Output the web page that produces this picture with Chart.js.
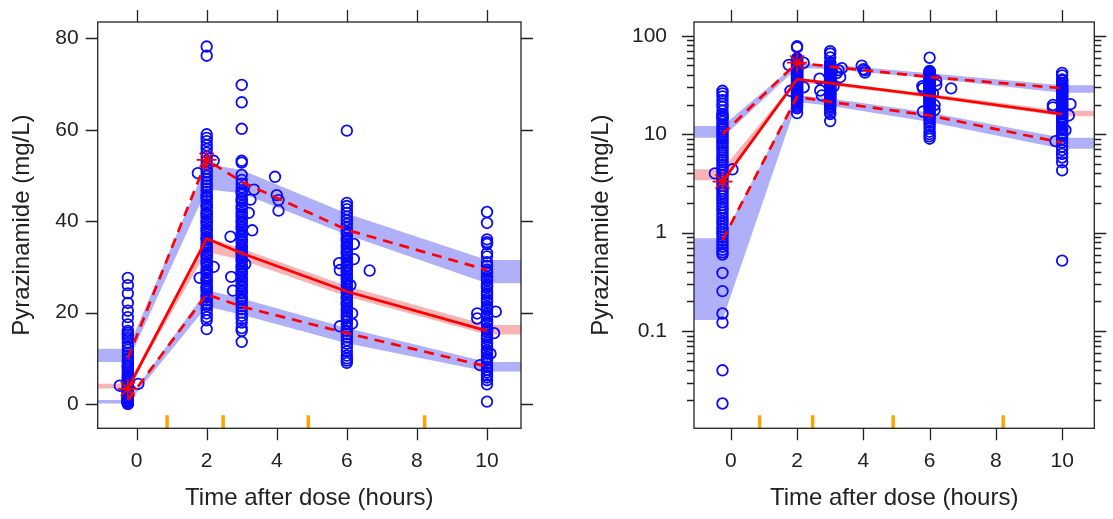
<!DOCTYPE html>
<html lang="en">
<head>
  <meta charset="UTF-8">
  <title>Pyrazinamide VPC</title>
  <style>
    body {
      margin: 0;
      padding: 0;
      background: #fff;
      font-family: "Liberation Sans", Arial, sans-serif;
    }
    .panel {
      position: absolute;
      top: 0;
      height: 519px;
    }
  </style>
</head>
<body>

<div class="panel" style="left:0;width:556px"><canvas id="linChart" width="556" height="519"></canvas></div>
<div class="panel" style="left:556px;width:557px"><canvas id="logChart" width="557" height="519"></canvas></div>

<script src="https://cdn.jsdelivr.net/npm/chart.js"></script>
<script>
  // bins (time after dose, hours)
  const binTimes = [-0.25, 2, 3, 6, 10];
  const binEdges = [0.87, 2.47, 4.9, 8.22];

  // observed percentiles
  const obsP05 = [0.84, 24.0, 21.3, 15.5, 8.2];
  const obsP50 = [3.3, 36.2, 33.0, 24.6, 16.0];
  const obsP95 = [10.0, 53.4, 48.6, 38.1, 29.3];

  // simulated confidence intervals of the percentiles
  const ciP05Low  = [0.13, 21.3, 19.5, 13.3, 7.1];
  const ciP05High = [0.88, 24.9, 23.1, 16.6, 9.2];
  const ciP50Low  = [3.4, 33.3, 31.5, 23.5, 15.2];
  const ciP50High = [4.4, 36.4, 34.0, 25.8, 17.3];
  const ciP95Low  = [9.2, 47.0, 46.1, 37.0, 26.4];
  const ciP95High = [12.1, 52.5, 51.2, 41.7, 31.5];

  // percentiles flagged outside their interval
  const starTimes = [-0.25, 2];
  const starConc = [3.3, 53.4];

  // observed concentrations, by nominal time column
  const colTimes = [-0.25, 2, 3, 6, 10];
  const obsPre = [27.6, 26.0, 24.2, 22.1, 20.4, 19.0, 17.4, 16.0, 15.6, 15.1, 14.6, 14.2, 13.4,
    12.6, 11.9, 11.2, 10.6, 10.0, 9.5, 9.0, 8.5, 8.1, 7.7, 7.3, 6.9, 6.5, 6.1, 5.8, 5.5, 5.2,
    4.9, 4.6, 4.35, 4.1, 3.85, 3.6, 3.4, 3.2, 3.0, 2.8, 2.65, 2.5, 2.35, 2.2, 2.05, 1.92, 1.8,
    1.7, 1.6, 1.5, 1.4, 1.31, 1.23, 1.15, 1.08, 1.01, 0.95, 0.89, 0.83, 0.77, 0.72, 0.67, 0.63,
    0.6, 0.39, 0.255, 0.151, 0.122, 0.04, 0.0184];
  const obs2h = [78.2, 76.2, 59.0, 58.2, 57.5, 56.6, 55.8, 55.0, 54.1, 53.2, 52.4, 51.5, 50.7,
    49.9, 49.2, 48.5, 47.8, 47.1, 46.4, 45.7, 45.3, 45.0, 44.4, 43.7, 43.4, 43.1, 42.5, 41.9,
    41.6, 41.3, 40.7, 40.1, 39.8, 39.5, 38.9, 38.3, 38.0, 37.7, 37.1, 36.5, 36.2, 35.9, 35.3,
    34.7, 34.4, 34.1, 33.5, 32.9, 32.6, 32.3, 31.7, 31.1, 30.8, 30.5, 29.9, 29.3, 29.0, 28.7,
    28.1, 27.5, 27.2, 26.9, 26.3, 25.7, 25.4, 25.1, 24.5, 23.9, 23.6, 23.3, 22.7, 22.0, 21.8,
    21.4, 20.6, 19.8, 19.0, 18.3, 16.4];
  const obs3h = [69.8, 66.0, 60.2, 53.2, 52.8, 50.1, 49.0, 48.2, 47.4, 46.6, 46.2, 45.8, 45.0,
    44.6, 44.2, 43.4, 43.0, 42.6, 41.8, 41.4, 41.0, 40.3, 39.9, 39.6, 38.9, 38.5, 38.2, 37.5,
    37.1, 36.8, 36.1, 35.7, 35.4, 34.7, 34.3, 34.0, 33.3, 32.9, 32.6, 31.9, 31.5, 31.2, 30.5,
    30.1, 29.8, 29.1, 28.7, 28.4, 27.7, 27.3, 27.0, 26.3, 25.9, 25.6, 24.9, 24.5, 24.2, 23.5,
    23.1, 22.8, 22.1, 21.4, 20.7, 20.0, 19.3, 18.6, 17.8, 16.6, 16.0, 13.6];
  const obs6h = [59.8, 44.0, 43.3, 42.6, 41.8, 41.0, 40.2, 39.4, 38.6, 37.8, 37.4, 37.0, 36.3,
    35.9, 35.6, 34.9, 34.5, 34.2, 33.5, 33.1, 32.8, 32.1, 31.7, 31.4, 30.7, 30.3, 30.0, 29.3,
    28.9, 28.6, 27.9, 27.5, 27.2, 26.5, 26.1, 25.8, 25.1, 24.7, 24.4, 23.7, 23.3, 23.0, 22.3,
    21.9, 21.6, 20.9, 20.5, 20.2, 19.5, 19.1, 18.8, 18.1, 17.4, 16.7, 16.0, 15.3, 14.6, 13.9,
    13.2, 12.4, 11.5, 10.6, 10.0, 9.5, 9.0];
  const obs10h = [42.0, 39.6, 36.0, 35.4, 35.0, 33.0, 32.3, 31.0, 30.2, 29.4, 29.0, 28.6, 27.8,
    27.4, 27.0, 26.2, 25.8, 25.4, 24.6, 24.2, 23.8, 23.0, 22.6, 22.2, 21.4, 21.0, 20.6, 19.8,
    19.4, 19.0, 18.2, 17.8, 17.4, 16.6, 16.2, 15.8, 15.0, 14.6, 14.2, 13.4, 13.0, 12.6, 11.8,
    11.4, 11.0, 10.3, 9.9, 9.6, 8.9, 8.2, 7.5, 6.9, 6.3, 5.8, 5.2, 4.3, 0.52];
  // observations away from the nominal columns
  const offTime = [-0.48, 0.05, 1.75, 1.8, 2.2, 2.2, 2.68, 2.7, 2.75, 3.2, 3.25, 3.3, 3.35, 3.1,
    3.95, 4.0, 4.05, 4.05, 5.78, 5.8, 6.2, 6.2, 6.65, 5.8, 6.15, 6.15, 6.1, 9.72, 9.72, 10.25,
    9.8, 10.2, 10.1];
  const offConc = [4.0, 4.4, 50.5, 27.6, 30.0, 53.2, 36.6, 27.8, 24.8, 41.8, 44.7, 38.0, 46.9, 30.6,
    49.7, 45.7, 44.6, 42.3, 30.8, 29.3, 35.0, 31.7, 29.2, 17.0, 19.8, 17.6, 26.0, 19.8, 18.7, 20.2,
    8.5, 15.5, 11.0];

  // axis ticks
  const xTicks = [0, 2, 4, 6, 8, 10];
  const linTicks = [0, 20, 40, 60, 80];
  const logTicks = [0.1, 1, 10, 100];
  const logMinor = [0.02, 0.03, 0.04, 0.05, 0.06, 0.07, 0.08, 0.09, 0.2, 0.3, 0.4, 0.5, 0.6, 0.7,
    0.8, 0.9, 2, 3, 4, 5, 6, 7, 8, 9, 20, 30, 40, 50, 60, 70, 80, 90];

  const X_MIN = -1.11, X_MAX = 10.97;
  const BLUE = '#0a0aff', RED = '#ff0000';
  const BAND_BLUE = '#b0b0f8', BAND_RED = '#f8b4b4';
  const AXIS = '#222';
  const FONT = '"Liberation Sans", Arial, sans-serif';

  function edge(vals) {
    const pts = [{ x: X_MIN, y: vals[0] }];
    binTimes.forEach((t, i) => pts.push({ x: t, y: vals[i] }));
    pts.push({ x: X_MAX, y: vals[vals.length - 1] });
    return pts;
  }
  function line(vals) {
    return binTimes.map((t, i) => ({ x: t, y: vals[i] }));
  }

  function buildDatasets() {
    const ds = [];
    // bands: lower edge then upper edge filled to previous
    [[ciP05Low, ciP05High, BAND_BLUE], [ciP50Low, ciP50High, BAND_RED], [ciP95Low, ciP95High, BAND_BLUE]]
      .forEach(([lo, hi, col]) => {
        ds.push({ type: 'line', data: edge(lo), borderWidth: 0, pointRadius: 0, fill: false, order: 3 });
        ds.push({ type: 'line', data: edge(hi), borderWidth: 0, pointRadius: 0, fill: '-1',
                  backgroundColor: col, order: 3 });
      });

    // observations
    const obs = [];
    [obsPre, obs2h, obs3h, obs6h, obs10h].forEach((col, i) => {
      col.forEach(v => obs.push({ x: colTimes[i], y: v }));
    });
    offTime.forEach((t, i) => obs.push({ x: t, y: offConc[i] }));
    ds.push({ type: 'scatter', data: obs, pointStyle: 'circle', pointRadius: 5.3,
              borderColor: BLUE, borderWidth: 1.8, backgroundColor: 'rgba(0,0,0,0)', order: 2 });

    // observed percentile lines
    ds.push({ type: 'line', data: line(obsP50), borderColor: RED, borderWidth: 2.7, pointRadius: 0,
              fill: false, order: 1 });
    [obsP05, obsP95].forEach(v => {
      ds.push({ type: 'line', data: line(v), borderColor: RED, borderWidth: 2.7, borderDash: [10, 7],
                pointRadius: 0, fill: false, order: 1 });
    });

    // stars
    ds.push({ type: 'scatter', data: starTimes.map((t, i) => ({ x: t, y: starConc[i] })),
              pointStyle: 'star', pointRadius: 10, borderColor: RED, borderWidth: 1.6, order: 0 });
    return ds;
  }

  const frame = {
    id: 'frame',
    afterDraw(chart, args, opts) {
      const { ctx, chartArea: a, scales: { x, y } } = chart;
      ctx.save();
      // bin boundary rug
      ctx.strokeStyle = '#ffa500';
      ctx.lineWidth = 3.5;
      ctx.beginPath();
      binEdges.forEach(v => {
        const p = x.getPixelForValue(v);
        ctx.moveTo(p, a.bottom);
        ctx.lineTo(p, a.bottom - 13);
      });
      ctx.stroke();

      ctx.strokeStyle = AXIS;
      ctx.lineWidth = 1.3;
      ctx.strokeRect(a.left, a.top, a.right - a.left, a.bottom - a.top);
      ctx.beginPath();
      xTicks.forEach(v => {
        const p = Math.round(x.getPixelForValue(v)) + 0.5;
        ctx.moveTo(p, a.bottom); ctx.lineTo(p, a.bottom + 12);
        ctx.moveTo(p, a.top); ctx.lineTo(p, a.top - 12);
      });
      const yTick = (v, len) => {
        const p = Math.round(y.getPixelForValue(v)) + 0.5;
        ctx.moveTo(a.left, p); ctx.lineTo(a.left - len, p);
        ctx.moveTo(a.right, p); ctx.lineTo(a.right + len, p);
      };
      opts.major.forEach(v => yTick(v, 12));
      (opts.minor || []).forEach(v => yTick(v, 7));
      ctx.stroke();
      ctx.restore();
    }
  };

  function noEdgePadding(s) {
    s.paddingTop = 0; s.paddingBottom = 0; s.paddingLeft = 0; s.paddingRight = 0;
  }

  function makeChart(id, yType, yMin, yMax, yMajor, yMinor, leftWidth, rightPad, labelPad, titlePad) {
    return new Chart(document.getElementById(id).getContext('2d'), {
      type: 'scatter',
      data: { datasets: buildDatasets() },
      plugins: [frame],
      options: {
        responsive: false,
        animation: false,
        layout: { padding: { top: 22, right: rightPad, bottom: 0, left: 0 } },
        plugins: {
          legend: { display: false },
          tooltip: { enabled: false },
          frame: { major: yMajor, minor: yMinor }
        },
        scales: {
          x: {
            type: 'linear',
            min: X_MIN,
            max: X_MAX,
            grid: { display: false },
            border: { display: false },
            afterBuildTicks: s => { s.ticks = xTicks.map(v => ({ value: v })); },
            afterFit: s => { s.height = 90.7; noEdgePadding(s); },
            ticks: { padding: 12, color: '#222', font: { family: FONT, size: 21 },
                     maxRotation: 0, autoSkip: false, callback: v => String(v) },
            title: { display: true, text: 'Time after dose (hours)', color: '#222',
                     font: { family: FONT, size: 24 }, padding: { top: 0, bottom: 6 } }
          },
          y: {
            type: yType,
            min: yMin,
            max: yMax,
            grid: { display: false },
            border: { display: false },
            afterBuildTicks: s => { s.ticks = yMajor.map(v => ({ value: v })); },
            afterFit: s => { s.width = leftWidth; noEdgePadding(s); },
            ticks: { padding: labelPad, color: '#222', font: { family: FONT, size: 21 },
                     autoSkip: false, callback: v => String(v) },
            title: { display: true, text: 'Pyrazinamide (mg/L)', color: '#222',
                     font: { family: FONT, size: 24 }, padding: { top: titlePad, bottom: 0 } }
          }
        }
      }
    });
  }

  makeChart('linChart', 'linear', -5.32, 83.57, linTicks, [], 97.7, 35, 11, 8);
  makeChart('logChart', 'logarithmic', 0.0103, 138, logTicks, logMinor, 138, 18.7, 19, 31);
</script>

</body>
</html>
